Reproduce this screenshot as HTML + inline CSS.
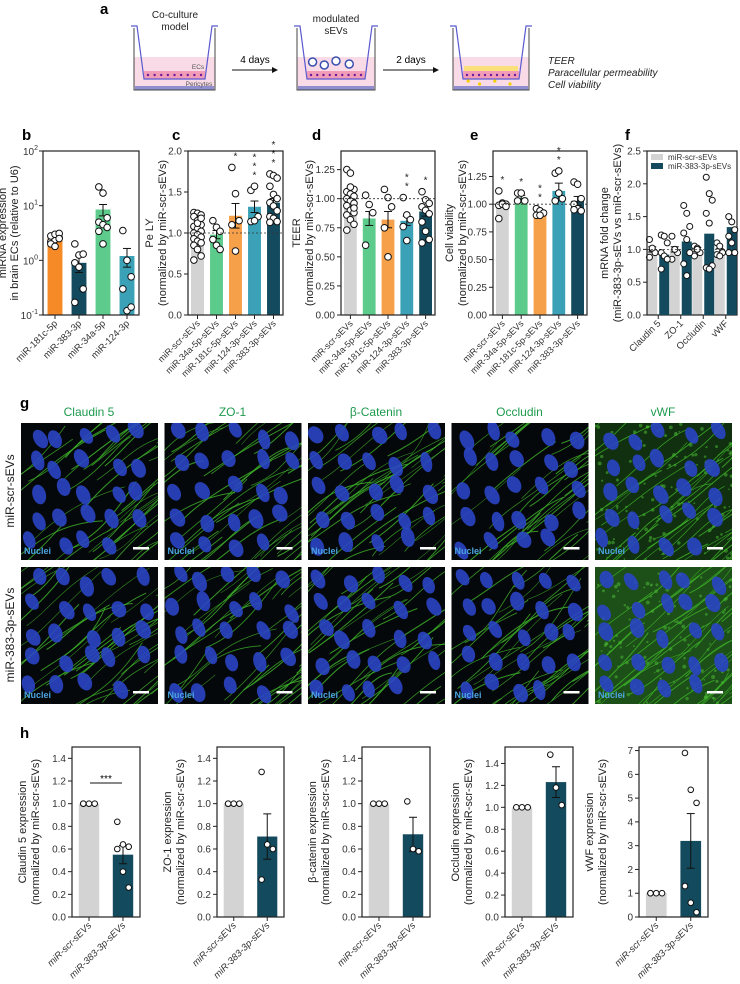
<!DOCTYPE html>
<html><head><meta charset="utf-8"><style>
html,body{margin:0;padding:0;background:#fff;}
svg{display:block;font-family:"Liberation Sans",sans-serif;}
</style></head><body>
<svg id="fig" width="740" height="984" viewBox="0 0 740 984" xmlns="http://www.w3.org/2000/svg">
<g id="panelA">
<text x="100" y="14" font-size="15" font-weight="bold">a</text>
</g>
<g id="plots"></g>
<g id="micro"></g>
</svg>
<script>
const NS="http://www.w3.org/2000/svg";
const svg=document.getElementById('fig');
function el(tag,attrs,parent,txt){const e=document.createElementNS(NS,tag);for(const k in attrs)e.setAttribute(k,attrs[k]);if(txt!==undefined)e.textContent=txt;(parent||svg).appendChild(e);return e;}
const C={grey:'#d3d3d3',green:'#5dcb8b',orange:'#f7a04a',orangeB:'#f58a26',teal:'#3aa1b6',dark:'#144a5d'};

/* ---------- data ---------- */
const bCats=['miR-181c-5p','miR-383-3p','miR-34a-5p','miR-124-3p'];
const bVals=[2.6,0.9,8.5,1.2];
const bErr=[0.25,0.3,2.0,0.45];
const bPts=[[2.2,2.4,2.6,2.8,3.0,3.1,2.0,1.8,2.5],[2.0,1.25,1.3,0.9,0.75,0.3,0.17],[22,17,6,5,4.5,4,3.4,2],[3.5,1.0,0.5,0.3,0.12,0.14]];

const vCats=['miR-scr-sEVs','miR-34a-5p-sEVs','miR-181c-5p-sEVs','miR-124-3p-sEVs','miR-383-3p-sEVs'];
const cVals=[0.97,0.98,1.21,1.32,1.37];
const cErr=[0.03,0.05,0.15,0.07,0.05];
const cPts=[[1.25,1.24,1.22,1.2,1.15,1.1,1.08,1.05,1.02,1.0,0.98,0.95,0.93,0.9,0.88,0.85,0.8,0.72,0.67,1.12,1.18],[1.15,1.07,1.02,0.92,0.85,0.8],[1.8,1.48,1.15,1.1,0.78],[1.52,1.57,1.2,1.14,1.15],[1.72,1.7,1.67,1.57,1.47,1.42,1.37,1.33,1.27,1.2,1.18,1.14,1.13]];
const cStars=['','','*','***','***'];

const dVals=[0.99,0.83,0.82,0.81,0.89];
const dErr=[0.02,0.06,0.07,0.04,0.04];
const dPts=[[1.25,1.22,1.08,1.06,1.04,1.02,1.0,0.98,0.96,0.94,0.9,0.88,0.86,0.82,0.78,0.73,1.1,0.92],[1.03,0.95,0.88,0.6],[1.08,1.01,0.93,0.75,0.5],[1.01,0.86,0.82,0.76,0.64],[1.06,0.99,0.96,0.93,0.9,0.87,0.8,0.72,0.65,0.62]];
const dStars=['','','','**','*'];

const eVals=[1.0,1.06,0.92,1.12,1.03];
const eErr=[0.01,0.02,0.02,0.07,0.04];
const ePts=[[1.12,1.01,1.0,0.99,1.0,0.98,0.87],[1.1,1.1,1.03,1.03],[0.96,0.94,0.92,0.9,0.9],[1.28,1.3,1.05,1.03,1.1],[1.2,1.18,1.05,1.0,0.96,0.94,0.95]];
const eStars=['*','*','**','**',''];

const fCats=['Claudin 5','ZO-1','Occludin','vWF'];
const fScr=[1.0,1.0,1.0,0.97];
const f383=[0.92,1.12,1.24,1.34];
const fScrPts=[[1.15,1.0,0.95,0.88,1.02],[1.2,1.0,0.95,0.85,1.0],[1.05,1.02,0.95,0.9,1.0],[1.1,1.05,0.95,0.92,0.9]];
const f383Pts=[[1.22,1.2,1.1,0.95,0.9,0.85,0.7],[1.67,1.55,1.35,1.25,1.15,0.95,0.78,0.6],[2.1,1.85,1.75,1.55,1.4,0.75,0.72,0.7],[1.5,1.42,1.3,1.2,1.1,0.95,0.95]];

const hCats=['miR-scr-sEVs','miR-383-3p-sEVs'];
const hVals=[[1.0,0.55],[1.0,0.71],[1.0,0.73],[1.0,1.23],[1.0,3.2]];
const hErr=[[0,0.08],[0,0.2],[0,0.15],[0,0.14],[0,1.15]];
const hPts=[[[1,1,1,1],[0.84,0.64,0.62,0.6,0.4,0.26]],[[1,1,1,1],[1.28,0.64,0.6,0.33]],[[1,1,1],[1.02,0.6,0.58]],[[1,1,1],[1.48,1.18,1.02]],[[1,1,1,1],[6.9,5.35,4.8,1.3,0.6,0.2]]];
const hTitles=['Claudin 5 expression','ZO-1 expression','β-catenin expression','Occludin expression','vWF expression'];

/* ---------- chart helper ---------- */
function axisFn(c){
  if(c.log){const a=Math.log10(c.ymin),b=Math.log10(c.ymax);return v=>c.y1-(Math.log10(v)-a)/(b-a)*(c.y1-c.y0);}
  return v=>c.y1-(v-c.ymin)/(c.ymax-c.ymin)*(c.y1-c.y0);
}
function chart(c){
  const g=el('g',{},document.getElementById('plots'));
  
  
  const Y=axisFn(c);
  const n=c.nb, band=(c.x1-c.x0)/n, bw=band*(c.bwf||0.68);
  const X=i=>c.x0+band*(i+0.5);
  const r=c.r||3.3;
  c.vals.forEach((v,i)=>{
    const cx=X(i)+(c.off?c.off[i]:0);
    const w=c.bw||bw;
    const bar=el('rect',{x:cx-w/2,y:Y(v),width:w,height:c.y1-Y(v),fill:c.colors[i]},g);
    
    
    if(c.err&&c.err[i]>0){
      const e=c.err[i];
      el('line',{x1:cx,x2:cx,y1:Y(v+e),y2:Y(Math.max(v-e,c.ymin)),stroke:'#111','stroke-width':1},g);
      el('line',{x1:cx-4,x2:cx+4,y1:Y(v+e),y2:Y(v+e),stroke:'#111','stroke-width':1},g);
      el('line',{x1:cx-4,x2:cx+4,y1:Y(v-e),y2:Y(v-e),stroke:'#111','stroke-width':1},g);
    }
    (c.pts[i]||[]).forEach((p,j)=>{
      const dx=((j%3)-1)*(w*0.28);
      const dot=el('circle',{cx:cx+dx,cy:Y(p),r:r,fill:'#fff',stroke:'#111','stroke-width':1},g);
      
      
    });
    if(c.stars&&c.stars[i]){
      const top=Math.max(...c.pts[i]);
      c.stars[i].split('').forEach((s,k)=>el('text',{x:cx,y:Y(top)-8-k*9,'font-size':10,'text-anchor':'middle',fill:'#222'},g,'*'));
    }
  });
  if(c.dash!==undefined) el('line',{x1:c.x0,x2:c.x1,y1:Y(c.dash),y2:Y(c.dash),stroke:'#333','stroke-width':0.8,'stroke-dasharray':'2,2'},g);
  el('rect',{x:c.x0,y:c.y0,width:c.x1-c.x0,height:c.y1-c.y0,fill:'none',stroke:'#222','stroke-width':1.2},g);
  c.ticks.forEach((t,k)=>{
    el('line',{x1:c.x0-4,x2:c.x0,y1:Y(t),y2:Y(t),stroke:'#222'},g);
    const lab=c.tickLabels[k];
    if(c.log){
      const tx=el('text',{x:c.x0-5,y:Y(t)+4,'font-size':10,'text-anchor':'end',fill:'#333'},g);
      el('tspan',{},tx,'10');
      el('tspan',{dy:-5,'font-size':7},tx,lab);
    } else el('text',{x:c.x0-6,y:Y(t)+3.5,'font-size':c.tfs||10,'text-anchor':'end',fill:'#333'},g,lab);
  });
  c.cats.forEach((t,i)=>{
    const cx=X(i);
    el('line',{x1:cx,x2:cx,y1:c.y1,y2:c.y1+4,stroke:'#222'},g);
    const lt=el('text',{x:cx+3,y:c.y1+9,'font-size':c.lfs||9.5,'text-anchor':'end',fill:'#333','font-style':c.italic?'italic':'normal',transform:`rotate(-45 ${cx+3} ${c.y1+9})`},g,t);
    
    
  });
  c.titles.forEach((t,k)=>{
    const tx=c.tx[k], ty=(c.y0+c.y1)/2;
    const tt=el('text',{x:tx,y:ty,'font-size':c.yfs||11,'text-anchor':'middle',fill:'#222',transform:`rotate(-90 ${tx} ${ty})`},g,t);
    
    
  });
  if(c.letter) el('text',{x:c.letter[0],y:c.letter[1],'font-size':15,'font-weight':'bold'},g,c.letter[2]);
  return {X,Y,g};
}
const v5c=[C.grey,C.green,C.orange,C.teal,C.dark];
chart({name:'panel-b-chart',x0:43,x1:139,y0:151,y1:315,ymin:0.1,ymax:100,log:true,ticks:[0.1,1,10,100],tickLabels:['-1','0','1','2'],nb:4,vals:bVals,err:bErr,pts:bPts,colors:[C.orangeB,C.dark,C.green,C.teal],cats:bCats,titles:['miRNA expression','in brain ECs (relative to U6)'],tx:[6,18],letter:[22,140,'b'],bwf:0.62});
chart({name:'panel-c-chart',x0:188,x1:283,y0:151,y1:315,ymin:0,ymax:2,ticks:[0,0.5,1,1.5,2],tickLabels:['0.0','0.5','1.0','1.5','2.0'],nb:5,vals:cVals,err:cErr,pts:cPts,stars:cStars,colors:v5c,cats:vCats,titles:['Pe LY','(normalized by miR-scr-sEVs)'],tx:[153,166],letter:[172,140,'c'],dash:1,lfs:9});
chart({name:'panel-d-chart',x0:341,x1:435,y0:151,y1:315,ymin:0,ymax:1.41,ticks:[0,0.25,0.5,0.75,1,1.25],tickLabels:['0.00','0.25','0.50','0.75','1.00','1.25'],nb:5,vals:dVals,err:dErr,pts:dPts,stars:dStars,colors:v5c,cats:vCats,titles:['TEER','(normalized by miR-scr-sEVs)'],tx:[300,313],letter:[312,140,'d'],dash:1,lfs:9});
chart({name:'panel-e-chart',x0:493,x1:587,y0:151,y1:315,ymin:0,ymax:1.48,ticks:[0,0.25,0.5,0.75,1,1.25],tickLabels:['0.00','0.25','0.50','0.75','1.00','1.25'],nb:5,vals:eVals,err:eErr,pts:ePts,stars:eStars,colors:v5c,cats:vCats,titles:['Cell viability','(normalized by miR-scr-sEVs)'],tx:[453,466],letter:[470,140,'e'],dash:1,lfs:9});
(function(){
  const f=chart({name:'panel-f-chart',x0:647,x1:737,y0:151,y1:315,ymin:0,ymax:2.5,ticks:[0,0.5,1,1.5,2,2.5],tickLabels:['0.0','0.5','1.0','1.5','2.0','2.5'],nb:4,vals:fScr,off:[-6,-6,-6,-6],bw:10,err:[0.04,0.04,0.03,0.04],pts:fScrPts,r:3,colors:[C.grey,C.grey,C.grey,C.grey],cats:fCats,titles:['mRNA fold change','(miR-383-3p-sEVs vs miR-scr-sEVs)'],tx:[608,621],letter:[625,140,'f'],dash:1,lfs:9.5});
  const g=f.g;
  f383.forEach((v,i)=>{
    const cx=f.X(i)+6;
    const b=el('rect',{x:cx-5,y:f.Y(v),width:10,height:315-f.Y(v),fill:C.dark},g);
    
    
    f383Pts[i].forEach((p,j)=>{
      const d=el('circle',{cx:cx+((j%3)-1)*3,cy:f.Y(p),r:3,fill:'#fff',stroke:'#111','stroke-width':1},g);
      
      
    });
  });
  const lg=el('g',{},g);
  
  
  el('rect',{x:651,y:154,width:12,height:6,fill:C.grey},lg);
  el('text',{x:668,y:160,'font-size':8,fill:'#333'},lg,'miR-scr-sEVs');
  el('rect',{x:651,y:163,width:12,height:6,fill:C.dark},lg);
  el('text',{x:668,y:169,'font-size':8,fill:'#333'},lg,'miR-383-3p-sEVs');
})();
const hBox=[[72,140],[217,284],[362,430],[505,573],[639,708]];
const hMax=[1.5,1.5,1.5,1.55,7.15];
const hTicks=[[0,0.2,0.4,0.6,0.8,1,1.2,1.4],[0,0.2,0.4,0.6,0.8,1,1.2,1.4],[0,0.2,0.4,0.6,0.8,1,1.2,1.4],[0,0.2,0.4,0.6,0.8,1,1.2,1.4],[0,1,2,3,4,5,6,7]];
hBox.forEach((b,k)=>{
  const lab=hTicks[k].map(t=>k<4?t.toFixed(1):String(t));
  const r=chart({name:'panel-h-chart-'+k,x0:b[0],x1:b[1],y0:747,y1:917,ymin:0,ymax:hMax[k],ticks:hTicks[k],tickLabels:lab,nb:2,vals:hVals[k],err:hErr[k],pts:hPts[k],r:2.8,colors:[C.grey,C.dark],cats:hCats,titles:[hTitles[k],'(normalized by miR-scr-sEVs)'],tx:[b[0]-46,b[0]-33],letter:k===0?[20,738,'h']:null,italic:true,lfs:9.5,bwf:0.6});
  if(k===0){el('line',{x1:90,x2:122,y1:783,y2:783,stroke:'#111'},r.g);el('text',{x:106,y:782,'font-size':10,'text-anchor':'middle'},r.g,'***');}
});

/* ---------- panel a schematic ---------- */
const A=document.getElementById('panelA');
function well(x,w,opts){
  const g=el('g',{},A);
  
  
  el('rect',{x:x,y:57,width:w,height:33,fill:'#f8dbe6'},g);
  el('rect',{x:x+1,y:86,width:w-2,height:4,fill:'#8f8fd0'},g);
  el('path',{d:`M${x} 28 V90 H${x+w} V28`,fill:'none',stroke:'#444','stroke-width':1},g);
  el('rect',{x:x+10,y:71,width:w-20,height:8,fill:'#f39cb8'},g);
  for(let i=0;i<9;i++)el('circle',{cx:x+14+i*(w-28)/8,cy:75,r:1.2,fill:'#6a1b9a'},g);
  el('path',{d:`M${x-3} 26 H${x+3} L${x+10} 79 H${x+w-10} L${x+w-3} 26 H${x+w+3}`,fill:'none',stroke:'#5a5ad0','stroke-width':1.2},g);
  if(opts.yellow){el('rect',{x:x+11,y:66,width:w-22,height:5,fill:'#f9e07a'},g);[0.2,0.35,0.55,0.75].forEach((f,i)=>el('circle',{cx:x+w*f,cy:81+(i%2)*3,r:1.6,fill:'#f5d000'},g));}
  if(opts.evs){[[0.2,62],[0.35,65],[0.5,61],[0.67,64]].forEach(p=>el('circle',{cx:x+w*p[0],cy:p[1],r:4,fill:'#fff',stroke:'#3b4fb0','stroke-width':1.5},g));}
  return g;
}
well(134,81,{});
well(297,78,{evs:true});
well(453,76,{yellow:true});
el('text',{x:175,y:18,'font-size':10,'text-anchor':'middle',fill:'#222'},A,'Co-culture');
el('text',{x:175,y:30,'font-size':10,'text-anchor':'middle',fill:'#222'},A,'model');
el('text',{x:198,y:69,'font-size':6.5,'text-anchor':'middle',fill:'#555'},A,'ECs');
el('text',{x:199,y:86,'font-size':6.5,'text-anchor':'middle',fill:'#555'},A,'Pericytes');
el('text',{x:336,y:22,'font-size':10,'text-anchor':'middle',fill:'#222'},A,'modulated');
el('text',{x:336,y:34,'font-size':10,'text-anchor':'middle',fill:'#222'},A,'sEVs');
[[232,278,'4 days'],[383,439,'2 days']].forEach(a=>{
  el('line',{x1:a[0],x2:a[1]-4,y1:70,y2:70,stroke:'#111'},A);
  el('path',{d:`M${a[1]} 70 l-6 -3 v6 z`,fill:'#111'},A);
  el('text',{x:(a[0]+a[1])/2,y:63,'font-size':10,'text-anchor':'middle'},A,a[2]);
});
['TEER','Paracellular permeability','Cell viability'].forEach((t,i)=>el('text',{x:548,y:64+i*12,'font-size':10,'font-style':'italic',fill:'#222'},A,t));

/* ---------- panel g microscopy (decorative) ---------- */
const M=document.getElementById('micro');
el('text',{x:20,y:408,'font-size':15,'font-weight':'bold'},M,'g');
const gTitles=['Claudin 5','ZO-1','β-Catenin','Occludin','vWF'];
let seed=7;function rnd(){seed=(seed*16807)%2147483647;return seed/2147483647;}
gTitles.forEach((t,k)=>{
  const x=21+k*143.5;
  const tt=el('text',{x:x+68,y:416,'font-size':12,'text-anchor':'middle',fill:'#1e9a4e'},M,t);
  
  
  [423,567].forEach((y,r)=>{
    const g=el('g',{},M);
    
    
    const cid='c'+k+r;
    const cp=el('clipPath',{id:cid},g);el('rect',{x:x,y:y,width:137,height:137},cp);
    const gg=el('g',{'clip-path':`url(#${cid})`},g);
    el('rect',{x:x,y:y,width:137,height:137,fill:'#05080a'},gg);
    if(k===4){
      el('rect',{x:x,y:y,width:137,height:137,fill:r?'#1d4f18':'#10300f'},gg);
      for(let i=0;i<120;i++)el('circle',{cx:x+rnd()*137,cy:y+rnd()*137,r:0.8+rnd()*1.2,fill:'#4fc43a',opacity:0.5},gg);
    }
    for(let i=0;i<45;i++){
      const x0=x+rnd()*180-30,y0=y+20+rnd()*160;
      el('path',{d:`M${x0} ${y0} c ${15+rnd()*20} ${-10-rnd()*15} ${35+rnd()*20} ${-30-rnd()*20} ${60+rnd()*40} ${-45-rnd()*30}`,fill:'none',stroke:'#3fb52a','stroke-width':0.5+rnd()*0.6,opacity:0.8},gg);
    }
    for(let i=0;i<24;i++){
      const cx=x+6+(i%5)*27+rnd()*14, cy=y+6+Math.floor(i/5)*27+rnd()*14;
      el('ellipse',{cx:cx,cy:cy,rx:5.5+rnd()*1.5,ry:8.5+rnd()*2,transform:`rotate(${-35+rnd()*20} ${cx} ${cy})`,fill:'#2a45c4',opacity:0.9},gg);
    }
    el('text',{x:x+3,y:y+131,'font-size':9,'font-weight':'bold',fill:'#4aa3e0'},gg,'Nuclei');
    el('rect',{x:x+112,y:y+124,width:16,height:2.5,fill:'#fff'},gg);
  });
});
[['miR-scr-sEVs',491],['miR-383-3p-sEVs',635]].forEach(a=>{const t=el('text',{x:14,y:a[1],'font-size':12,'text-anchor':'middle',transform:`rotate(-90 14 ${a[1]})`,fill:'#222'},M,a[0]);});
</script>
</body></html>
